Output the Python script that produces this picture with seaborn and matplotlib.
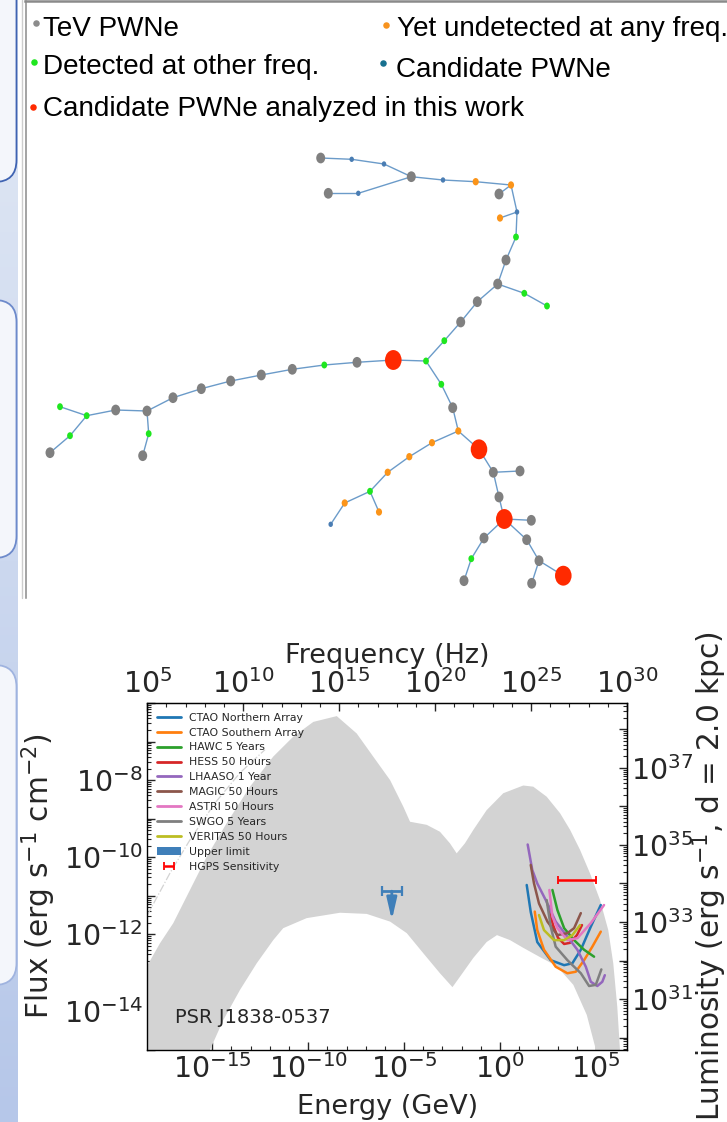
import numpy as np
import pandas as pd
import matplotlib
matplotlib.use("Agg")
import matplotlib.pyplot as plt
import seaborn as sns
from matplotlib.collections import LineCollection
from matplotlib.colors import LinearSegmentedColormap
from matplotlib.lines import Line2D
from matplotlib.patches import FancyBboxPatch, Patch
from matplotlib.path import Path
from matplotlib.ticker import FixedLocator, FuncFormatter, NullFormatter, LogLocator
from matplotlib.transforms import Affine2D

# ------------------------------------------------------------------
# PWN population tree (layout coordinates of each source)
# ------------------------------------------------------------------
node_x = [320.7, 351.7, 384.0, 411.3, 443.0, 475.7, 511.0, 499.0, 328.3, 358.3,
          517.0, 500.0, 516.0, 506.0, 497.7, 524.3, 547.0, 477.3, 460.7, 444.3,
          426.0, 393.3, 357.0, 324.3, 292.3, 261.3, 230.7, 201.3, 173.0, 147.0,
          115.7, 86.7, 60.0, 70.0, 50.0, 148.7, 142.7, 441.3, 452.7, 458.3,
          432.0, 409.3, 387.7, 370.0, 344.7, 330.7, 379.0, 479.0, 493.3, 520.0,
          499.0, 504.3, 531.3, 484.0, 471.3, 464.0, 526.7, 539.0, 531.7, 563.3]
node_y = [158.0, 159.3, 164.0, 176.7, 180.0, 181.7, 185.0, 194.0, 193.3, 193.3,
          212.0, 218.0, 237.0, 260.0, 284.0, 293.3, 306.0, 301.7, 322.0, 340.7,
          361.0, 360.0, 362.3, 365.0, 369.3, 375.0, 381.0, 388.7, 397.7, 411.0,
          410.0, 415.7, 406.7, 435.7, 452.7, 433.7, 455.7, 384.3, 407.7, 431.0,
          442.7, 456.7, 472.3, 491.3, 503.0, 524.3, 512.0, 449.3, 472.3, 471.0,
          497.0, 519.0, 520.3, 538.0, 558.7, 580.7, 539.7, 560.7, 583.3, 575.7]
node_kind = ["tev", "candidate", "candidate", "tev", "candidate", "undetected", "undetected", "tev", "tev", "candidate",
             "candidate", "undetected", "other", "tev", "tev", "other", "other", "tev", "tev", "other",
             "other", "analyzed", "tev", "other", "tev", "tev", "tev", "tev", "tev", "tev",
             "tev", "other", "other", "other", "tev", "other", "tev", "other", "tev", "undetected",
             "undetected", "undetected", "undetected", "other", "undetected", "candidate", "undetected", "analyzed", "tev", "tev",
             "tev", "analyzed", "tev", "tev", "other", "tev", "tev", "tev", "tev", "analyzed"]
tree_edges = [(0, 1), (1, 2), (2, 3), (3, 4), (4, 5), (5, 6), (6, 7), (8, 9), (9, 3),
              (6, 10), (10, 11), (10, 12), (12, 13), (13, 14), (14, 15), (15, 16),
              (14, 17), (17, 18), (18, 19), (19, 20), (20, 21), (21, 22), (22, 23),
              (23, 24), (24, 25), (25, 26), (26, 27), (27, 28), (28, 29), (29, 30),
              (30, 31), (31, 32), (31, 33), (33, 34), (29, 35), (35, 36), (20, 37),
              (37, 38), (38, 39), (39, 40), (40, 41), (41, 42), (42, 43), (43, 44),
              (44, 45), (43, 46), (39, 47), (47, 48), (48, 49), (48, 50), (50, 51),
              (51, 52), (51, 53), (53, 54), (54, 55), (51, 56), (56, 57), (57, 58),
              (57, 59)]

tree_legend_kinds = ["tev", "other", "analyzed", "undetected", "candidate"]
tree_legend_labels = ["TeV PWNe", "Detected at other freq.",
                      "Candidate PWNe analyzed in this work",
                      "Yet undetected at any freq.", "Candidate PWNe"]

# ------------------------------------------------------------------
# Spectral energy distribution of PSR J1838-0537 (log10 values)
# ------------------------------------------------------------------
sed_upper_log_e = [-18.6, -17.72, -17.03, -16.16, -15.29, -14.25, -13.03, -11.82, -10.77, -9.73,
                   -8.51, -7.47, -6.61, -5.73, -5.04, -4.69, -3.82, -3.13, -2.61, -2.26,
                   -1.83, -1.39, -0.70, 0.17, 1.21, 1.73, 2.43, 3.13, 3.65, 4.17,
                   4.69, 5.21, 5.64, 5.90, 6.11, 6.25]
sed_upper_log_f = [-13.0, -12.23, -11.71, -10.85, -9.99, -9.12, -8.17, -7.39, -6.87, -6.49,
                   -6.34, -6.79, -7.39, -8.00, -8.69, -9.08, -9.16, -9.34, -9.64, -9.90,
                   -9.64, -9.29, -8.78, -8.34, -8.14, -8.17, -8.43, -8.86, -9.29, -9.81,
                   -10.42, -11.11, -11.89, -12.75, -13.88, -15.0]
sed_lower_log_e = [-15.12, -14.42, -13.55, -12.68, -11.82, -11.30, -10.08, -8.34, -6.95, -5.73,
                   -4.86, -4.00, -3.13, -2.48, -2.09, -1.39, -0.70, -0.16, 0.52, 1.21,
                   2.08, 2.95, 3.82, 4.52, 5.00]
sed_lower_log_f = [-15.0, -14.22, -13.44, -12.75, -12.15, -11.84, -11.58, -11.44, -11.47, -11.67,
                   -11.97, -12.49, -13.01, -13.37, -13.10, -12.61, -12.20, -12.02, -12.15, -12.35,
                   -12.59, -12.82, -13.31, -14.09, -15.0]
sed_outer_log_e = [-18.38, -17.20, -16.16, -14.85, -13.55, -12.25]
sed_outer_log_f = [-11.50, -10.41, -9.55, -8.59, -7.81, -7.21]

instruments = ["CTAO Northern Array", "CTAO Southern Array", "HAWC 5 Years",
               "HESS 50 Hours", "LHAASO 1 Year", "MAGIC 50 Hours",
               "ASTRI 50 Hours", "SWGO 5 Years", "VERITAS 50 Hours"]
sens_log_e = {
    "CTAO Northern Array": [1.39, 1.60, 1.94, 2.64, 3.34, 3.77, 4.21, 4.73, 5.25],
    "CTAO Southern Array": [1.81, 1.94, 2.29, 2.90, 3.51, 3.95, 4.38, 4.81, 5.25],
    "HAWC 5 Years": [2.73, 2.99, 3.34, 3.86, 4.38, 4.90],
    "HESS 50 Hours": [2.50, 2.76, 3.02, 3.34, 3.65, 4.01, 4.27],
    "LHAASO 1 Year": [1.44, 1.68, 1.94, 2.38, 2.90, 3.51, 4.03, 4.47, 4.73, 5.07, 5.33, 5.46],
    "MAGIC 50 Hours": [1.60, 1.77, 2.03, 2.47, 2.99, 3.51, 3.86, 4.21],
    "ASTRI 50 Hours": [2.57, 2.73, 2.99, 3.51, 4.03, 4.73, 5.42],
    "SWGO 5 Years": [2.43, 2.64, 2.90, 3.51, 4.21, 4.64, 4.99, 5.28],
    "VERITAS 50 Hours": [2.03, 2.29, 2.81, 3.34, 3.77, 4.17],
}
sens_log_f = {
    "CTAO Northern Array": [-10.72, -11.42, -12.20, -12.67, -12.80, -12.75, -12.40, -11.80, -11.24],
    "CTAO Southern Array": [-11.41, -11.89, -12.40, -12.84, -13.01, -12.97, -12.67, -12.32, -11.93],
    "HAWC 5 Years": [-10.85, -11.37, -11.84, -12.15, -12.40, -12.58],
    "HESS 50 Hours": [-11.24, -11.76, -12.09, -12.25, -12.22, -12.02, -11.76],
    "LHAASO 1 Year": [-9.67, -10.33, -10.68, -11.11, -11.67, -12.06, -12.40, -12.84, -13.23, -13.34, -13.23, -13.06],
    "MAGIC 50 Hours": [-10.20, -10.68, -11.20, -11.67, -12.02, -11.97, -11.84, -11.45],
    "ASTRI 50 Hours": [-10.85, -11.54, -11.84, -12.15, -12.10, -11.71, -11.24],
    "SWGO 5 Years": [-11.11, -11.80, -12.32, -12.67, -13.01, -13.34, -13.31, -12.91],
    "VERITAS 50 Hours": [-11.50, -11.89, -12.15, -12.15, -12.02, -11.76],
}

# X-ray upper limit: energy band, flux level and arrow reach (log10)
ul_log_e = [-6.16, -5.64, -5.12]
ul_log_f = -10.88
ul_log_f_tip = -11.63

# HGPS sensitivity band (log10 GeV) and flux (log10)
hgps_log_e = [3.0, 5.0]
hgps_log_f = -10.59

freq_tick_exp = [5, 10, 15, 20, 25, 30]
energy_tick_exp = [-15, -10, -5, 0, 5]
flux_label_exp = [-14, -12, -10, -8]
lum_label_exp = [31, 33, 35, 37]

# unit conversions for the twin axes
H_GEV_S = 4.135667696e-24          # Planck constant in GeV s
DIST_CM = 2.0 * 3.0857e21          # 2.0 kpc in cm
LUM_FACTOR = 4.0 * np.pi * DIST_CM ** 2

# ------------------------------------------------------------------
sns.set_style("ticks")
plt.rcParams["font.family"] = ["DejaVu Sans"]
plt.rcParams["mathtext.fontset"] = "dejavusans"

W, H = 727, 1122
fig = plt.figure(figsize=(W / 100, H / 100), dpi=100, facecolor="white")


def px_axes(x0, y0, x1, y1):
    return fig.add_axes([x0 / W, 1 - y1 / H, (x1 - x0) / W, (y1 - y0) / H])


# --- slide side strip with rounded boxes ---
strip = px_axes(0, 0, 18, H)
grad = LinearSegmentedColormap.from_list("strip", ["#e2e9f5", "#b6c7e9"])
strip.imshow(np.linspace(0, 1, 256)[:, None], cmap=grad, aspect="auto",
             extent=(0, 18, H, 0))
for y0, y1, ec in [(-40, 182, "#3f63b2"), (300, 558, "#6d8acb"), (665, 985, "#9fb3df")]:
    strip.add_patch(FancyBboxPatch((-60, y0), 76.5, y1 - y0,
                                   boxstyle="round,pad=0,rounding_size=22",
                                   fc="#f4f6fb", ec=ec, lw=1.3))
strip.set_xlim(0, 18)
strip.set_ylim(H, 0)
strip.axis("off")

fig.add_artist(Line2D([21.5 / W, 21.5 / W], [1, 1 - 598 / H], transform=fig.transFigure,
                      color="#cdcdcd", lw=1.0))

# --- tree panel ---
tree_ax = px_axes(25.5, 1.2, W, 598)
kind_colors = {"tev": "#808080", "other": "#1fe61f", "analyzed": "#ff2a00",
               "undetected": "#fb9419", "candidate": "#4a7db3"}
kind_sizes = {"tev": 60, "other": 25, "analyzed": 205, "undetected": 28, "candidate": 15}
legend_dot_colors = {"tev": "#8c8c8c", "other": "#1fe61f", "analyzed": "#ff2a00",
                     "undetected": "#f7931e", "candidate": "#17708f"}

segs = [[(node_x[a], node_y[a]), (node_x[b], node_y[b])] for a, b in tree_edges]
tree_ax.add_collection(LineCollection(segs, colors="#6b9bc9", linewidths=1.0, zorder=1))
nodes = pd.DataFrame({"x": node_x, "y": node_y, "kind": node_kind})
oval = Path.unit_circle().transformed(Affine2D().scale(1.0, 1.2))
sns.scatterplot(data=nodes, x="x", y="y", hue="kind", size="kind",
                palette=kind_colors, sizes=kind_sizes, marker=oval,
                linewidth=0, legend=False, ax=tree_ax, zorder=3)

legend_text_pos = [(43.3, 35.5), (43.3, 73.5), (43.3, 115.5), (397.3, 35.5), (396.3, 77.3)]
legend_dot_pos = [(36.0, 23.5), (34.3, 62.0), (33.3, 106.7), (385.7, 25.0), (383.3, 63.3)]
for kind, label, (tx, ty), (dx, dy) in zip(tree_legend_kinds, tree_legend_labels,
                                           legend_text_pos, legend_dot_pos):
    tree_ax.scatter([dx], [dy], s=22, color=legend_dot_colors[kind], lw=0, zorder=4)
    tree_ax.text(tx, ty, label, fontsize=20.1, family=["Liberation Sans", "DejaVu Sans"],
                 va="baseline", ha="left", color="black", clip_on=False)

tree_ax.set_xlim(25.5, W)
tree_ax.set_ylim(598, 1.2)
tree_ax.set_xticks([])
tree_ax.set_yticks([])
tree_ax.set_xlabel("")
tree_ax.set_ylabel("")
for side in ["right", "bottom"]:
    tree_ax.spines[side].set_visible(False)
tree_ax.spines["left"].set_color("#8a8a8a")
tree_ax.spines["left"].set_linewidth(1.1)
tree_ax.spines["top"].set_color("#8a8a8a")
tree_ax.spines["top"].set_linewidth(1.8)

# --- SED panel ---
sed = px_axes(147.3, 703, 627, 1050)
sed.set_xscale("log")
sed.set_yscale("log")

band_e = (sed_upper_log_e + [6.3, 6.3] + sed_lower_log_e[::-1] + [-15.2, -18.6])
band_f = (sed_upper_log_f + [-15.5, -15.5] + sed_lower_log_f[::-1] + [-15.5, -15.5])
sed.fill(10.0 ** np.array(band_e), 10.0 ** np.array(band_f), color="#d3d3d3", lw=0, zorder=1)
sed.plot(10.0 ** np.array(sed_outer_log_e), 10.0 ** np.array(sed_outer_log_f),
         color="#d3d3d3", lw=0.9, ls="-.", zorder=1)

rows = []
for name in instruments:
    for le, lf in zip(sens_log_e[name], sens_log_f[name]):
        rows.append({"instrument": name, "energy": 10.0 ** le, "flux": 10.0 ** lf})
sens_df = pd.DataFrame(rows)
inst_colors = dict(zip(instruments, sns.color_palette("tab10", len(instruments))))
sns.lineplot(data=sens_df, x="energy", y="flux", hue="instrument", hue_order=instruments,
             palette=inst_colors, linewidth=1.8, estimator=None, sort=False,
             legend=False, ax=sed, zorder=3)

# X-ray upper limit
ul_e = 10.0 ** np.array(ul_log_e)
ul_f = 10.0 ** ul_log_f
sed.errorbar([ul_e[1]], [ul_f], xerr=[[ul_e[1] - ul_e[0]], [ul_e[2] - ul_e[1]]],
             fmt="none", ecolor="#3f7fb9", elinewidth=2.0, capsize=3.5, capthick=1.6, zorder=4)
sed.annotate("", xy=(ul_e[1], 10.0 ** ul_log_f_tip), xytext=(ul_e[1], ul_f),
             arrowprops=dict(arrowstyle="-|>,head_length=1.3,head_width=0.3",
                             color="#3f7fb9", lw=2.0, shrinkA=0, shrinkB=0), zorder=4)

# HGPS sensitivity
hg_lo, hg_hi = 10.0 ** np.array(hgps_log_e)
hg_c = np.sqrt(hg_lo * hg_hi)
hgps = sed.errorbar([hg_c], [10.0 ** hgps_log_f], xerr=[[hg_c - hg_lo], [hg_hi - hg_c]],
                    fmt="none", ecolor="red", elinewidth=1.8, capsize=3, capthick=1.3,
                    label="HGPS Sensitivity", zorder=4)

sed.text(0.0577, 0.077, "PSR J1838-0537", transform=sed.transAxes, fontsize=14,
         va="baseline", ha="left")

handles = [Line2D([], [], color=inst_colors[n], lw=2.0) for n in instruments]
handles += [Patch(facecolor="#3f7fb9", edgecolor="none"), hgps]
labels = instruments + ["Upper limit", "HGPS Sensitivity"]
sed.legend(handles, labels, loc="upper left", frameon=False, fontsize=7.8,
           handlelength=2.2, handletextpad=0.75, labelspacing=0.45, borderaxespad=0.5)

sed.set_xlim(1e5 * H_GEV_S, 1e30 * H_GEV_S)
sed.set_ylim(1e-15, 1e-6)


def exp_label(keep):
    def fmt(v, pos):
        k = int(round(np.log10(v)))
        return r"$10^{%d}$" % k if k in keep else ""
    return FuncFormatter(fmt)


sed.xaxis.set_major_locator(FixedLocator([10.0 ** k for k in energy_tick_exp]))
sed.xaxis.set_minor_locator(FixedLocator([10.0 ** k for k in range(-18, 7) if k not in energy_tick_exp]))
sed.xaxis.set_major_formatter(exp_label(energy_tick_exp))
sed.xaxis.set_minor_formatter(NullFormatter())
sed.yaxis.set_major_locator(FixedLocator([10.0 ** k for k in range(-15, -5)]))
sed.yaxis.set_minor_locator(LogLocator(base=10, subs=np.arange(2, 10), numticks=100))
sed.yaxis.set_major_formatter(exp_label(flux_label_exp))
sed.yaxis.set_minor_formatter(NullFormatter())
sed.tick_params(which="both", direction="in", top=False, right=False, labelsize=20.5, pad=3)
sed.tick_params(which="major", length=6, width=1.0)
sed.tick_params(which="minor", length=3, width=0.8)
for sp in sed.spines.values():
    sp.set_linewidth(1.0)
    sp.set_color("black")

top = sed.secondary_xaxis("top", functions=(lambda e: e / H_GEV_S, lambda n: n * H_GEV_S))
top.xaxis.set_major_locator(FixedLocator([10.0 ** k for k in freq_tick_exp]))
top.xaxis.set_minor_locator(FixedLocator([10.0 ** k for k in range(5, 31) if k not in freq_tick_exp]))
top.xaxis.set_major_formatter(exp_label(freq_tick_exp))
top.xaxis.set_minor_formatter(NullFormatter())
top.tick_params(which="both", direction="in", labelsize=20.5, pad=3)
top.tick_params(which="major", length=6, width=1.0)
top.tick_params(which="minor", length=3, width=0.8)

right = sed.secondary_yaxis("right", functions=(lambda f: f * LUM_FACTOR, lambda l: l / LUM_FACTOR))
right.yaxis.set_major_locator(FixedLocator([10.0 ** k for k in range(29, 40)]))
right.yaxis.set_minor_locator(LogLocator(base=10, subs=np.arange(2, 10), numticks=100))
right.yaxis.set_major_formatter(exp_label(lum_label_exp))
right.yaxis.set_minor_formatter(NullFormatter())
right.tick_params(which="both", direction="in", labelsize=20.5, pad=3)
right.tick_params(which="major", length=6, width=1.0)
right.tick_params(which="minor", length=3, width=0.8)

sed.set_xlabel("Energy (GeV)", fontsize=19.5, labelpad=7)
sed.set_ylabel(r"Flux (erg s$^{-1}$ cm$^{-2}$)", fontsize=21.3, labelpad=4)
top.set_xlabel("Frequency (Hz)", fontsize=19.5, labelpad=4)
right.set_ylabel(r"Luminosity (erg s$^{-1}$, d = 2.0 kpc)", fontsize=21.3, labelpad=-2)

fig.savefig("out.png", dpi=100, facecolor="white")
